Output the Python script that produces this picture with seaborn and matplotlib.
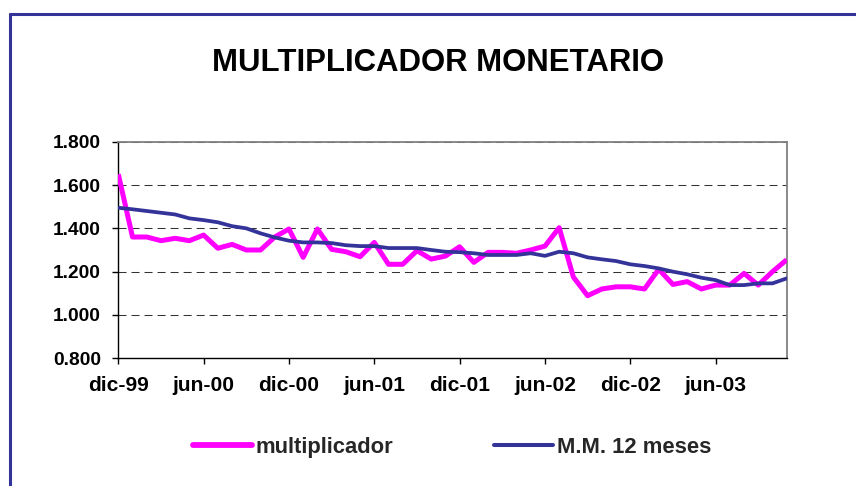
import numpy as np
import pandas as pd
import matplotlib
matplotlib.use("Agg")
import matplotlib.pyplot as plt
from matplotlib.lines import Line2D
import seaborn as sns

# ---- data ----
tick_labels = ["dic-99", "jun-00", "dic-00", "jun-01",
               "dic-01", "jun-02", "dic-02", "jun-03"]
multiplicador = [1.650, 1.360, 1.360, 1.343, 1.354, 1.343, 1.369, 1.308,
                 1.326, 1.300, 1.300, 1.360, 1.397, 1.266, 1.397, 1.303,
                 1.292, 1.269, 1.335, 1.234, 1.234, 1.297, 1.258, 1.272,
                 1.315, 1.243, 1.289, 1.289, 1.285, 1.300, 1.318, 1.403,
                 1.175, 1.089, 1.120, 1.130, 1.130, 1.120, 1.211, 1.141,
                 1.154, 1.120, 1.138, 1.138, 1.192, 1.138, 1.200, 1.255]
mm12 = [1.495, 1.488, 1.480, 1.472, 1.464, 1.446, 1.438, 1.428,
        1.410, 1.400, 1.377, 1.358, 1.343, 1.335, 1.335, 1.332,
        1.322, 1.318, 1.318, 1.309, 1.309, 1.309, 1.300, 1.292,
        1.290, 1.285, 1.277, 1.277, 1.277, 1.285, 1.273, 1.292,
        1.285, 1.266, 1.257, 1.249, 1.234, 1.226, 1.215, 1.200,
        1.188, 1.172, 1.161, 1.138, 1.138, 1.146, 1.146, 1.169]
series_names = ["multiplicador", "M.M. 12 meses"]
series_colors = ["#FF00FF", "#333399"]
y_ticks = [0.8, 1.0, 1.2, 1.4, 1.6, 1.8]

n = len(multiplicador)
idx = np.arange(n)
df = pd.DataFrame({
    "t": np.concatenate([idx, idx]),
    "valor": multiplicador + mm12,
    "serie": [series_names[0]] * n + [series_names[1]] * n,
})

sns.set_theme(style="white")
plt.rcParams["font.family"] = ["Liberation Sans", "DejaVu Sans"]
plt.rcParams["font.weight"] = "bold"

W, H = 856, 486
fig = plt.figure(figsize=(W / 100, H / 100), dpi=100)
fig.patch.set_facecolor("white")

left, right, top, bottom = 118.3, 786.7, 141.7, 358.3
ax = fig.add_axes([left / W, 1 - bottom / H, (right - left) / W, (bottom - top) / H])

sns.lineplot(data=df, x="t", y="valor", hue="serie", palette=series_colors,
             hue_order=series_names, ax=ax, legend=False)
lines = ax.get_lines()
lines[0].set_linewidth(3.6)
lines[1].set_linewidth(2.7)
lines[0].set_solid_capstyle("butt")
lines[1].set_zorder(3)
lines[0].set_zorder(2.8)

ax.set_xlim(0, n - 1)
ax.set_ylim(0.8, 1.8)
ax.set_xticks(np.arange(0, n, 6)[:len(tick_labels)])
ax.set_xticklabels(tick_labels)
ax.set_yticks(y_ticks)
ax.set_yticklabels([f"{v:.3f}" for v in y_ticks])
ax.set_xlabel("")
ax.set_ylabel("")

ax.tick_params(axis="both", which="major", direction="out", length=4,
               width=1, color="black", left=True, bottom=True)
ax.tick_params(axis="x", pad=8.7, labelsize=15.1)
ax.tick_params(axis="y", pad=8.4, labelsize=13.8)
for lab in ax.get_xticklabels() + ax.get_yticklabels():
    lab.set_fontweight("bold")
    lab.set_color("black")

ax.yaxis.grid(True, color="#333333", linewidth=0.75, linestyle=(0, (7.7, 4.8)))
ax.xaxis.grid(False)
ax.set_axisbelow(True)

for s in ["left", "bottom"]:
    ax.spines[s].set_color("black")
    ax.spines[s].set_linewidth(1.0)
for s in ["top", "right"]:
    ax.spines[s].set_color("#808080")
    ax.spines[s].set_linewidth(1.3)

fig.text(438.5 / W, 1 - 71 / H, "MULTIPLICADOR MONETARIO", ha="center",
         va="baseline", fontsize=22.4, fontweight="bold", color="black")

handles = [Line2D([0], [0], color=series_colors[0], lw=4.2, solid_capstyle="round"),
           Line2D([0], [0], color=series_colors[1], lw=2.9, solid_capstyle="round")]
leg = fig.legend(handles, series_names, loc="center",
                 bbox_to_anchor=(452 / W, 1 - 447 / H), ncol=2, frameon=False,
                 prop={"weight": "bold", "size": 15.8}, handlelength=2.7,
                 handletextpad=0.15, columnspacing=4.6)

# outer frame (top and left edges visible)
fig.add_artist(Line2D([9.5 / W, 1.0], [1 - 13.8 / H, 1 - 13.8 / H],
                      transform=fig.transFigure, color="#333399", lw=2.2))
fig.add_artist(Line2D([9.5 / W, 9.5 / W], [1 - 13.8 / H, 0.0],
                      transform=fig.transFigure, color="#333399", lw=2.2))

fig.savefig("out.png", dpi=100, facecolor="white")
